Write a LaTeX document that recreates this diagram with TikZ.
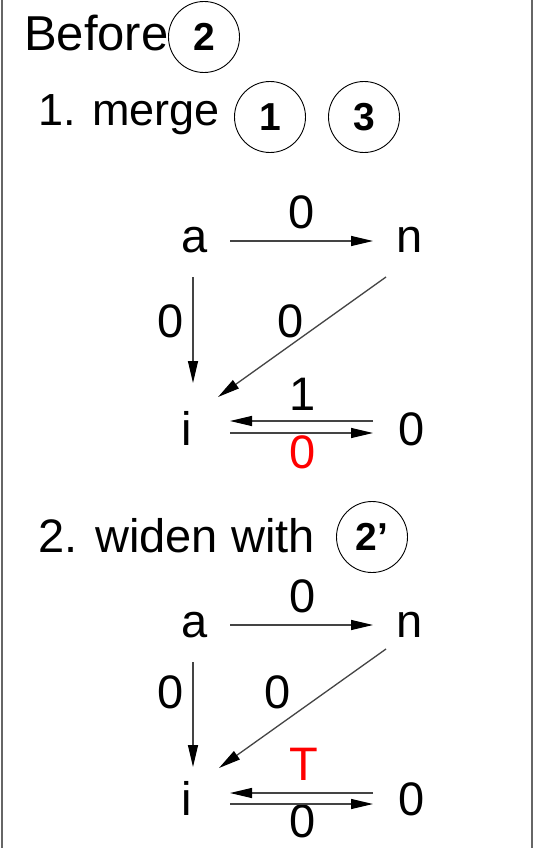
\documentclass[tikz,border=0pt]{standalone}
\usepackage{fontspec}
\setmainfont{Liberation Sans}
\usetikzlibrary{arrows.meta,calc}
\definecolor{framegray}{HTML}{666666}
\definecolor{linegray}{HTML}{444444}
\begin{document}
\begin{tikzpicture}[x=1pt,y=-1pt,
  txt/.style={anchor=base,inner sep=0pt,font=\fontsize{47}{52}\selectfont},
  head/.style={anchor=base west,inner sep=0pt,font=\fontsize{47}{52}\selectfont},
  badge/.style={circle,draw,line width=0.9pt,minimum size=71pt,inner sep=0pt,font=\fontsize{39}{44}\selectfont\bfseries},
  arr/.style={draw=linegray,line width=1.3pt,-{Triangle[length=22pt,width=10pt,fill=black,color=black]}},
  redtxt/.style={txt,text=red}]
\useasboundingbox (0,0) rectangle (537,848);
\fill[white] (0,0) rectangle (537,848);
\draw[framegray,line width=2pt] (2,0) -- (2,848);
\draw[framegray,line width=2pt] (532,0) -- (532,848);

% headings
\node[head,font=\fontsize{49}{54}\selectfont] (before) at (24,51) {Before};
\node[badge] (c2) at (204,37) {2};
\node[head,font=\fontsize{45}{50}\selectfont] (merge) at (38,125) {1. merge};
\node[badge] (c1) at (270,117) {1};
\node[badge] (c3) at (364,117) {3};

% graph 1
\node[txt] (a1) at (195,252) {a};
\node[txt] (n1) at (410,252) {n};
\node[txt] (i1) at (187,445) {i};
\node[txt] (z1) at (412,445) {0};
\node[txt] (l1an) at (302,228) {0};
\node[txt] (l1ai) at (171,337) {0};
\node[txt] (l1ni) at (291,337) {0};
\node[txt] (l1zi) at (303,410) {1};
\node[redtxt] (l1iz) at (303,468) {0};
\draw[arr] ($(a1.base)+(35,-11)$) -- ($(n1.base)+(-37,-11)$);
\draw[arr] ($(a1.base)+(-2,25)$) -- ($(i1.base)+(6,-62)$);
\draw[arr] ($(n1.base)+(-24,25)$) -- ($(i1.base)+(31,-48)$);
\draw[arr] ($(z1.base)+(-39,-24)$) -- ($(i1.base)+(43,-24)$);
\draw[arr] ($(i1.base)+(43,-12)$) -- ($(z1.base)+(-39,-12)$);

% section 2
\node[head] (widen) at (38.5,552) {2. widen with};
\node[badge] (c2p) at (372,537) {2’};

% graph 2
\node[txt] (a2) at (195,637) {a};
\node[txt] (n2) at (410,637) {n};
\node[txt] (i2) at (187,815) {i};
\node[txt] (z2) at (412,815) {0};
\node[txt] (l2an) at (303,612) {0};
\node[txt] (l2ai) at (171,708) {0};
\node[txt] (l2ni) at (278,708) {0};
\node[redtxt] (l2zi) at (304,780) {T};
\node[txt] (l2iz) at (303,837) {0};
\draw[arr] ($(a2.base)+(35,-12)$) -- ($(n2.base)+(-37,-12)$);
\draw[arr] ($(a2.base)+(-2,25)$) -- ($(i2.base)+(6,-48)$);
\draw[arr] ($(n2.base)+(-24,12)$) -- ($(i2.base)+(32,-47)$);
\draw[arr] ($(z2.base)+(-39,-22)$) -- ($(i2.base)+(43,-22)$);
\draw[arr] ($(i2.base)+(43,-11)$) -- ($(z2.base)+(-39,-11)$);
\end{tikzpicture}
\end{document}
